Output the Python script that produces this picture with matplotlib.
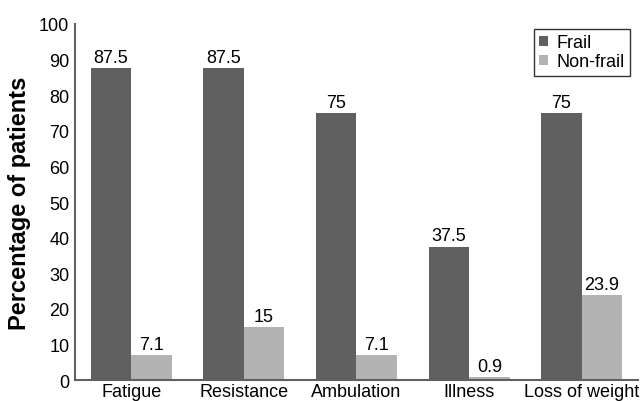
import matplotlib
matplotlib.use("Agg")
import matplotlib.pyplot as plt
import numpy as np

plt.rcParams['font.family'] = ['Liberation Sans', 'DejaVu Sans']

categories = ["Fatigue", "Resistance", "Ambulation", "Illness", "Loss of weight"]
frail = [87.5, 87.5, 75, 37.5, 75]
nonfrail = [7.1, 15, 7.1, 0.9, 23.9]
frail_labels = ["87.5", "87.5", "75", "37.5", "75"]
nonfrail_labels = ["7.1", "15", "7.1", "0.9", "23.9"]

fig = plt.figure(figsize=(6.4, 4.02), dpi=100)
ax = fig.add_axes([0.117, 0.052, 0.88, 0.886])

x = np.arange(len(categories))
w = 0.36
b1 = ax.bar(x - w/2, frail, w, color='#606060', label='Frail')
b2 = ax.bar(x + w/2, nonfrail, w, color='#b3b3b3', label='Non-frail')

for bars, labels in ((b1, frail_labels), (b2, nonfrail_labels)):
    for rect, lab in zip(bars, labels):
        ax.annotate(lab, (rect.get_x() + rect.get_width()/2, rect.get_height()),
                    xytext=(0, 1.5), textcoords='offset points',
                    ha='center', va='bottom', fontsize=13)

ax.set_xlim(-0.5, 4.5)
ax.set_ylim(0, 100)
ax.set_yticks(np.arange(0, 101, 10))
ax.set_xticks(x)
ax.set_xticklabels(categories, fontsize=13)
ax.tick_params(axis='y', labelsize=13, length=0, pad=4)
ax.tick_params(axis='x', length=0, pad=2)
for s in ['top', 'right']:
    ax.spines[s].set_visible(False)
for s in ['left', 'bottom']:
    ax.spines[s].set_color('#606060')
    ax.spines[s].set_linewidth(1.5)

ax.set_ylabel('Percentage of patients', fontsize=17, fontweight='bold', labelpad=6)

leg = ax.legend(loc='upper right', bbox_to_anchor=(0.986, 0.986), fontsize=13,
                frameon=True, fancybox=False, edgecolor='black', handlelength=0.5,
                handleheight=0.5, handletextpad=0.45, borderpad=0.3, labelspacing=0.1,
                borderaxespad=0.0)
leg.get_frame().set_linewidth(1.0)

fig.savefig('out.png', dpi=100)
